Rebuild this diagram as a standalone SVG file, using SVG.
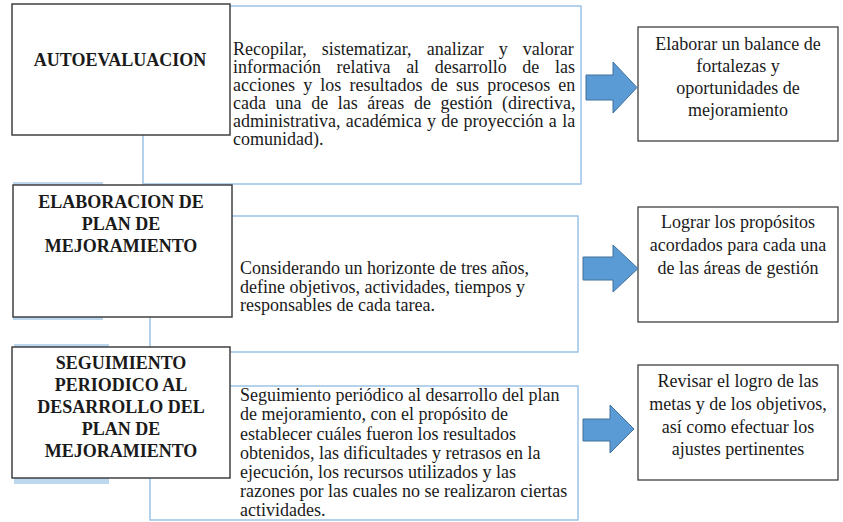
<svg xmlns="http://www.w3.org/2000/svg" width="843" height="522" viewBox="0 0 843 522">
<style>
.bg{fill:#ffffff}
.lbl{fill:#ffffff;stroke:#404040;stroke-width:1.5}
.blu{fill:#ffffff;stroke:#9dc3e6;stroke-width:1.5}
.sh{fill:#bdd7ee}
.res{fill:#ffffff;stroke:#404040;stroke-width:1.3}
.arr{fill:#5b9bd5;stroke:#41719c;stroke-width:1}
text{font-family:'Liberation Serif','Times New Roman',serif;fill:#1a1a1a}
.t{font-size:18px}
.b{font-size:18px;font-weight:bold;text-anchor:middle}
.c{text-anchor:middle}
</style>
<rect class="bg" x="0" y="0" width="843" height="522"/>

<g id="detail1">
<rect class="blu" x="143" y="6" width="438" height="178"/>
<text class="t" x="233" y="55" word-spacing="10.6">Recopilar, sistematizar, analizar y valorar</text>
<text class="t" x="233" y="73" word-spacing="11.1">información relativa al desarrollo de las</text>
<text class="t" x="233" y="91" word-spacing="3.7">acciones y los resultados de sus procesos en</text>
<text class="t" x="233" y="109" word-spacing="5.1">cada una de las áreas de gestión (directiva,</text>
<text class="t" x="233" y="127" word-spacing="0.8">administrativa, académica y de proyección a la</text>
<text class="t" x="233" y="145">comunidad).</text>
</g>

<g id="detail2">
<rect class="blu" x="150" y="216" width="428" height="136"/>
<text class="t" x="240" y="274">Considerando un horizonte de tres años,</text>
<text class="t" x="240" y="293">define objetivos, actividades, tiempos y</text>
<text class="t" x="240" y="311">responsables de cada tarea.</text>
</g>

<g id="detail3">
<rect class="blu" x="150" y="386" width="428" height="134"/>
<text class="t" x="240" y="401">Seguimiento periódico al desarrollo del plan</text>
<text class="t" x="240" y="420">de mejoramiento, con el propósito de</text>
<text class="t" x="240" y="440">establecer cuáles fueron los resultados</text>
<text class="t" x="240" y="459">obtenidos, las dificultades y retrasos en la</text>
<text class="t" x="240" y="478">ejecución, los recursos utilizados y las</text>
<text class="t" x="240" y="497">razones por las cuales no se realizaron ciertas</text>
<text class="t" x="240" y="516">actividades.</text>
</g>

<g id="step1">
<rect class="lbl" x="12" y="4" width="218" height="131"/>
<text class="b" x="120" y="66">AUTOEVALUACION</text>
</g>

<g id="step2">
<rect class="sh" x="13" y="182" width="90" height="138"/>
<rect class="lbl" x="13" y="185" width="219" height="132"/>
<text class="b" x="121" y="208">ELABORACION DE</text>
<text class="b" x="121" y="230">PLAN DE</text>
<text class="b" x="121" y="252">MEJORAMIENTO</text>
</g>

<g id="step3">
<rect class="sh" x="14" y="344" width="95" height="140"/>
<rect class="lbl" x="12" y="347" width="218" height="131"/>
<text class="b" x="121" y="369">SEGUIMIENTO</text>
<text class="b" x="121" y="391">PERIODICO AL</text>
<text class="b" x="121" y="413">DESARROLLO DEL</text>
<text class="b" x="121" y="435">PLAN DE</text>
<text class="b" x="121" y="457">MEJORAMIENTO</text>
</g>

<g id="result1">
<rect class="res" x="638" y="27" width="200" height="114"/>
<text class="t c" x="738" y="50">Elaborar un balance de</text>
<text class="t c" x="738" y="72">fortalezas y</text>
<text class="t c" x="738" y="94">oportunidades de</text>
<text class="t c" x="738" y="116">mejoramiento</text>
</g>

<g id="result2">
<rect class="res" x="638" y="207" width="200" height="115"/>
<text class="t c" x="738" y="228">Lograr los propósitos</text>
<text class="t c" x="738" y="251">acordados para cada una</text>
<text class="t c" x="738" y="274">de las áreas de gestión</text>
</g>

<g id="result3">
<rect class="res" x="638" y="365" width="200" height="115"/>
<text class="t c" x="738" y="387">Revisar el logro de las</text>
<text class="t c" x="738" y="410">metas y de los objetivos,</text>
<text class="t c" x="738" y="433">así como efectuar los</text>
<text class="t c" x="738" y="455">ajustes pertinentes</text>
</g>

<g id="connectors">
<polygon class="arr" points="586,75 613,75 613,62 637,87.5 613,113 613,100 586,100"/>
<polygon class="arr" points="583,257 613,257 613,245 638,268.5 613,292 613,280 583,280"/>
<polygon class="arr" points="583,419 610,419 610,405 634,429 610,453 610,441 583,441"/>
</g>
</svg>
